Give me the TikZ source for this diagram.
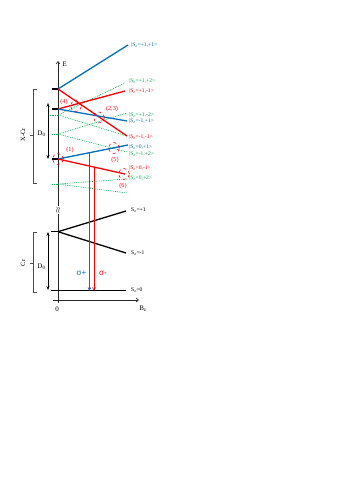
\documentclass[tikz,border=0pt]{standalone}
\usepackage{fontspec}
\setmainfont{Liberation Serif}
\newfontfamily\sigfont{Liberation Sans}
\usetikzlibrary{calc,arrows.meta}
\definecolor{xblue}{RGB}{0,112,192}
\definecolor{xred}{RGB}{255,0,0}
\definecolor{xgreen}{RGB}{0,176,80}
\definecolor{tblue}{RGB}{40,90,220}
\newcommand\myket[1]{|S\textsubscript{z}=#1>}
\newcommand\mys[1]{S\textsubscript{z}=#1}
\begin{document}
\begin{tikzpicture}[x=1pt,y=-1pt,
  bl/.style={xblue,line width=1.3pt},
  rd/.style={xred,line width=1.3pt},
  gr/.style={xgreen,line width=0.6pt,dash pattern=on 0.9pt off 0.9pt},
  blk/.style={black,line width=1.3pt},
  ax/.style={black!85,line width=0.6pt,-{Straight Barb[length=2.5pt,width=4pt]}},
  lab/.style={font=\fontsize{5.6}{6}\selectfont,anchor=west,inner sep=0pt},
  circ/.style={draw,xred,dashed,line width=0.55pt,circle,minimum size=11pt,inner sep=0pt},
  num/.style={xred,font=\fontsize{6.2}{7}\selectfont,inner sep=0pt},
  big/.style={font=\fontsize{7}{8}\selectfont,inner sep=0pt},
  dzero/.style={black,line width=0.8pt,{Stealth[length=4pt,width=3pt]}-{Stealth[length=4pt,width=3pt]}},
  brk/.style={black!70,line width=0.5pt},
  trans/.style={line width=0.7pt,-{Straight Barb[length=2.5pt,width=3pt]}}]
\path[use as bounding box] (0,0) rectangle (346,490);

% axes
\coordinate (Ebot) at (58,303);
\coordinate (Etop) at (58,61);
\draw[ax] (Ebot) -- (Etop);
\node[big,anchor=west] (Elab) at (62.5,64) {E};
\coordinate (Bl) at (53,300);
\coordinate (Br) at (139,300);
\draw[ax] (Bl) -- (Br);
\node[big] (zero) at (57,309) {0};
\node[big] (Blab) at (143,309) {B\textsubscript{z}};
\node[fill=white,inner sep=0.3pt,rotate=90,font=\fontsize{8}{8}\selectfont] (brkz) at (58,210) {$\approx$};

% X-Cr levels
\coordinate (A) at (58,89);   \coordinate (At) at (52,89);
\coordinate (B) at (58,109);  \coordinate (Bt) at (52,109);
\coordinate (G1) at (58,115); \coordinate (G1t) at (48,115);
\coordinate (G2) at (58,134); \coordinate (G2t) at (52,134);
\coordinate (C) at (58,159);  \coordinate (Ct) at (52,159);
\coordinate (G3) at (58,184); \coordinate (G3t) at (52,184);

\draw[blk] (At) -- (A);
\draw[blk] (Bt) -- (B);
\draw[blk] (Ct) -- (C);
\draw[gr] (G1t) -- (G1);
\draw[gr] (G2t) -- (G2);
\draw[gr] (G3t) -- (G3);

% end points
\coordinate (eA1) at (128,45);
\coordinate (eA2) at (127,136);
\coordinate (eB1) at (125,91);
\coordinate (eB2) at (127,121);
\coordinate (eG11) at (125,83);
\coordinate (eG12) at (127,136);
\coordinate (eG21) at (127,113);
\coordinate (eG22) at (127,152);
\coordinate (eC1) at (128,145);
\coordinate (eC2) at (125,174);
\coordinate (eG31) at (127,179);
\coordinate (eG32) at (127,193);

\draw[gr] (G1) -- (eG11);
\draw[gr] (G1) -- (eG12);
\draw[gr] (G2) -- (eG21);
\draw[gr] (G2) -- (eG22);
\draw[gr] (G3) -- (eG31);
\draw[gr] (G3) -- (eG32);
\draw[bl] (A) -- (eA1);
\draw[rd] (A) -- (eA2);
\draw[rd] (B) -- (eB1);
\draw[bl] (B) -- (eB2);
\draw[bl] (C) -- (eC1);
\draw[rd] (C) -- (eC2);

% labels
\node[lab,xblue] (lA1) at (131,45) {\myket{+1,+1}};
\node[lab,xgreen] (lG11) at (129,81) {\myket{+1,+2}};
\node[lab,xred] (lB1) at (129,91) {\myket{+1,-1}};
\node[lab,xgreen] (lG21) at (129,115.3) {\myket{+1,-2}};
\node[lab,xblue] (lB2) at (129,121.3) {\myket{-1,+1}};
\node[lab,xred] (lA2) at (129,137) {\myket{-1,-1}};
\node[lab,xblue] (lC1) at (129,147) {\myket{0,+1}};
\node[lab,xgreen] (lG22) at (129,154) {\myket{-1,+2}};
\node[lab,xred] (lC2) at (129,168.5) {\myket{0,-1}};
\node[lab,xgreen] (lG31) at (129,178) {\myket{0,+2}};

% circles
\node[circ] (c4) at (76,106) {};
\node[circ] (c23) at (99,117.5) {};
\node[circ] (c1) at (58,159) {};
\node[circ] (c5) at (114,148) {};
\node[circ] (c6) at (124,174) {};
\node[num] (n4) at (64,102) {(4)};
\node[num] (n23) at (112,109.5) {(2,3)};
\node[num] (n1) at (70,150) {(1)};
\node[num] (n5) at (115,160) {(5)};
\node[num] (n6) at (123,186) {(6)};

% Cr levels
\coordinate (K) at (58,231.7); \coordinate (Kt) at (51,231.7);
\coordinate (eK1) at (126,211);
\coordinate (eK2) at (126,253);
\coordinate (Gl) at (51,290.7);
\coordinate (Gr) at (126,290.7);
\draw[blk] (Kt) -- (K);
\draw[blk] (K) -- (eK1);
\draw[blk] (K) -- (eK2);
\draw[blk] (Gl) -- (Gr);
\node[lab] (lK1) at (131,210) {\mys{+1}};
\node[lab] (lK2) at (131,253) {\mys{-1}};
\node[lab] (lG) at (131,290) {\mys{0}};

% transitions
\coordinate (ts1) at ($(C)!0.45!(eC1)$);
\coordinate (ts2) at ($(C)!0.537!(eC2)$);
\draw[trans,tblue] (ts1) -- (ts1 |- Gl);
\draw[trans,xred] (ts2) -- (ts2 |- Gl);
\node[xblue,font=\sigfont\fontsize{8}{9}\selectfont,inner sep=0pt] (sp) at (81.5,273) {σ+};
\node[xred,font=\sigfont\fontsize{8}{9}\selectfont,inner sep=0pt] (sm) at (103,273) {σ-};

% D0 arrows
\coordinate (d1t) at (48,103);
\coordinate (d1b) at (48,159);
\draw[dzero] (d1t) -- (d1b);
\node[big] (D1) at (41.5,133.5) {D\textsubscript{0}};
\coordinate (d2t) at (48,232);
\coordinate (d2b) at (48,290);
\draw[dzero] (d2t) -- (d2b);
\node[big] (D2) at (41.5,267) {D\textsubscript{0}};

% brackets
\coordinate (x1) at (37,89); \coordinate (x2) at (33,89);
\coordinate (x3) at (33,183); \coordinate (x4) at (37,183);
\coordinate (xm) at (33,135); \coordinate (xd) at (29.5,135);
\draw[brk] (x1) -- (x2) -- (x3) -- (x4);
\draw[brk] (xm) -- (xd);
\node[big,rotate=90,font=\fontsize{6.5}{7}\selectfont] (XCr) at (23,135) {X-Cr};
\coordinate (y1) at (37,232); \coordinate (y2) at (33,232);
\coordinate (y3) at (33,292); \coordinate (y4) at (37,292);
\coordinate (ym) at (33,263); \coordinate (yd) at (29.5,263);
\draw[brk] (y1) -- (y2) -- (y3) -- (y4);
\draw[brk] (ym) -- (yd);
\node[big,rotate=90,font=\fontsize{6.5}{7}\selectfont] (Cr) at (23,263) {Cr};
\end{tikzpicture}
\end{document}
